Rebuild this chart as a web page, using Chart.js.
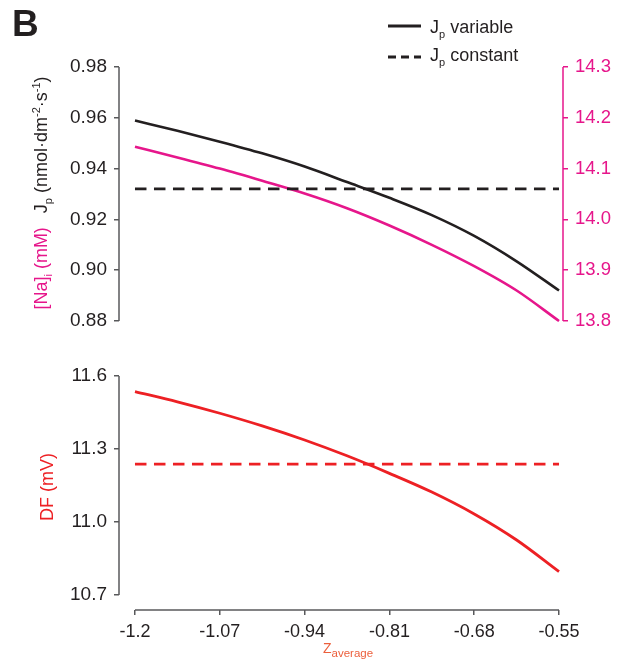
<!DOCTYPE html>
<html>
<head>
<meta charset="utf-8">
<script src="https://cdn.jsdelivr.net/npm/chart.js@4.4.1/dist/chart.umd.min.js"></script>
<style>
  body { margin: 0; background: #fff; }
  #wrap { position: relative; width: 622px; height: 662px; font-family: "Liberation Sans", Arial, sans-serif; color: #231f20; }
  canvas { position: absolute; left: 0; }
  .txt { position: absolute; white-space: nowrap; }
  .lo { position: relative; }
</style>
</head>
<body>
<div id="wrap">
  <canvas id="topChart" width="622" height="340" style="top:0"></canvas>
  <canvas id="bottomChart" width="622" height="322" style="top:340px"></canvas>

  <div class="txt" style="left:12px; top:5px; font: bold 37px/37px 'Liberation Sans', Arial, sans-serif;">B</div>

  <!-- legend -->
  <svg class="txt" style="left:388px; top:16px;" width="34" height="50">
    <line x1="0" y1="10" x2="33" y2="10" stroke="#231f20" stroke-width="3"/>
    <line x1="0" y1="41" x2="33" y2="41" stroke="#231f20" stroke-width="3" stroke-dasharray="8 5"/>
  </svg>
  <div class="txt" style="left:430px; top:18px; font-size:18px; line-height:18px;">J<span class="lo" style="font-size:11px; top:5px;">p</span> variable</div>
  <div class="txt" style="left:430px; top:46px; font-size:18px; line-height:18px;">J<span class="lo" style="font-size:11px; top:5px;">p</span> constant</div>

  <!-- y titles -->
  <div class="txt" style="left:42px; top:193px; transform: translate(-50%,-50%) rotate(-90deg); font-size:18px; line-height:18px;"><span style="color:#e6168b">[Na]<span class="lo" style="font-size:11px; top:5px;">i</span> (mM)</span><span style="padding-left:14px">J<span class="lo" style="font-size:11px; top:5px;">p</span> (nmol·dm<span class="lo" style="font-size:11px; top:-7px;">-2</span>·s<span class="lo" style="font-size:11px; top:-7px;">-1</span>)</span></div>
  <div class="txt" style="left:47px; top:487px; transform: translate(-50%,-50%) rotate(-90deg); font-size:18px; line-height:18px; color:#ed2024;">DF (mV)</div>

  <!-- x title -->
  <div class="txt" style="left:323px; top:641px; font-size:14px; line-height:14px; color:#ec5f3c;">Z<span class="lo" style="font-size:11.5px; top:4px;">average</span></div>
</div>

<script>
const zAvg = [-1.2, -1.135, -1.07, -1.005, -0.94, -0.875, -0.81, -0.745, -0.68, -0.615, -0.55];
const jpVariable = [0.9589, 0.9549, 0.9506, 0.9460, 0.9408, 0.9347, 0.9285, 0.9217, 0.9135, 0.9035, 0.8920];
const naVariable = [14.143, 14.122, 14.100, 14.076, 14.051, 14.022, 13.988, 13.950, 13.908, 13.860, 13.800];
const dfVariable = [11.536, 11.494, 11.447, 11.395, 11.337, 11.272, 11.200, 11.123, 11.033, 10.926, 10.796];
const jpConstant = 0.932;
const dfConstant = 11.238;

const zTicks = [-1.2, -1.07, -0.94, -0.81, -0.68, -0.55];
const zTickLabels = ['-1.2', '-1.07', '-0.94', '-0.81', '-0.68', '-0.55'];
const jpTicks = [0.88, 0.90, 0.92, 0.94, 0.96, 0.98];
const naTicks = [13.8, 13.9, 14.0, 14.1, 14.2, 14.3];
const dfTicks = [10.7, 11.0, 11.3, 11.6];

const BLACK = '#231f20';
const MAGENTA = '#e6168b';
const RED = '#ed2024';
const AXIS = '#58595b';
const FONT = "'Liberation Sans', Arial, sans-serif";

// x range is a bit wider than the data so the axes sit apart from the curves
const X_MIN = -1.2245;
const X_MAX = -0.5439;

function pts(ys) {
  return zAvg.map((x, i) => ({ x: x, y: ys[i] }));
}

function flat(v) {
  return [{ x: zAvg[0], y: v }, { x: zAvg[zAvg.length - 1], y: v }];
}

// axis lines that only run from the first to the last tick
function makeSpines(axes) {
  return {
    id: 'spines',
    beforeDatasetsDraw(chart) {
      const ctx = chart.ctx;
      Object.keys(axes).forEach(id => {
        const s = chart.scales[id];
        const a = s.getPixelForValue(s.ticks[0].value);
        const b = s.getPixelForValue(s.ticks[s.ticks.length - 1].value);
        ctx.save();
        ctx.strokeStyle = axes[id];
        ctx.lineWidth = 1.5;
        ctx.beginPath();
        if (s.isHorizontal()) {
          ctx.moveTo(a, s.top);
          ctx.lineTo(b, s.top);
        } else {
          const x = s.position === 'left' ? s.right : s.left;
          ctx.moveTo(x, a);
          ctx.lineTo(x, b);
        }
        ctx.stroke();
        ctx.restore();
      });
    }
  };
}

function yAxis(position, min, max, ticks, width, color, size, digits) {
  return {
    position: position,
    min: min,
    max: max,
    afterBuildTicks: s => { s.ticks = ticks.map(v => ({ value: v })); },
    afterFit: s => { s.width = width; },
    border: { display: false },
    grid: { drawOnChartArea: false, drawTicks: true, tickLength: 5, color: color, lineWidth: 1.5 },
    ticks: {
      color: color === AXIS ? BLACK : color,
      font: { family: FONT, size: size },
      padding: 7,
      callback: v => v.toFixed(digits)
    }
  };
}

const common = {
  responsive: false,
  animation: false,
  elements: {
    point: { radius: 0 },
    line: { cubicInterpolationMode: 'monotone', fill: false }
  },
  plugins: { legend: { display: false }, tooltip: { enabled: false } }
};

new Chart(document.getElementById('topChart'), {
  type: 'line',
  data: {
    datasets: [
      { label: 'Jp variable', data: pts(jpVariable), yAxisID: 'y', borderColor: BLACK, borderWidth: 2.6, clip: false },
      { label: 'Jp constant', data: flat(jpConstant), yAxisID: 'y', borderColor: BLACK, borderWidth: 2.8, borderDash: [11.5, 7.5], clip: false },
      { label: '[Na]i', data: pts(naVariable), yAxisID: 'yNa', borderColor: MAGENTA, borderWidth: 2.6, clip: false }
    ]
  },
  options: Object.assign({}, common, {
    layout: { padding: { top: 67, bottom: 19, left: 0, right: 0 } },
    scales: {
      x: { type: 'linear', display: false, min: X_MIN, max: X_MAX },
      y: yAxis('left', 0.88, 0.98, jpTicks, 119, AXIS, 19, 2),
      yNa: yAxis('right', 13.8, 14.3, naTicks, 59, MAGENTA, 18.5, 1)
    }
  }),
  plugins: [makeSpines({ y: AXIS, yNa: MAGENTA })]
});

const dfY = yAxis('left', 10.6384, 11.6, dfTicks, 119, AXIS, 19, 1);

new Chart(document.getElementById('bottomChart'), {
  type: 'line',
  data: {
    datasets: [
      { label: 'DF variable', data: pts(dfVariable), borderColor: RED, borderWidth: 2.8, clip: false },
      { label: 'DF constant', data: flat(dfConstant), borderColor: RED, borderWidth: 2.8, borderDash: [11.5, 7.5], clip: false }
    ]
  },
  options: Object.assign({}, common, {
    layout: { padding: { top: 36, bottom: 0, left: 0, right: 59 } },
    scales: {
      x: {
        type: 'linear',
        position: 'bottom',
        min: X_MIN,
        max: X_MAX,
        afterBuildTicks: s => { s.ticks = zTicks.map(v => ({ value: v })); },
        afterFit: s => { s.height = 52; },
        border: { display: false },
        grid: { drawOnChartArea: false, drawTicks: true, tickLength: 5, color: AXIS, lineWidth: 1.5 },
        ticks: {
          color: BLACK,
          font: { family: FONT, size: 18 },
          padding: 6,
          maxRotation: 0,
          autoSkip: false,
          callback: (v, i) => zTickLabels[i]
        }
      },
      y: dfY
    }
  }),
  plugins: [makeSpines({ x: AXIS, y: AXIS })]
});
</script>
</body>
</html>
